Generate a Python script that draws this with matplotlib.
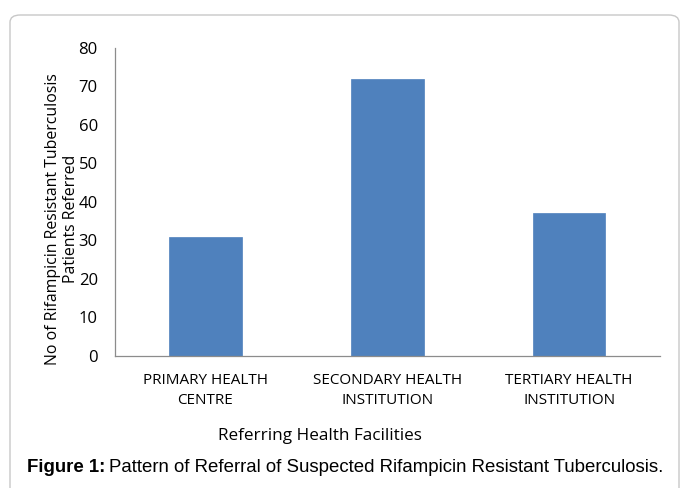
import matplotlib
matplotlib.use("Agg")
import matplotlib.pyplot as plt
from matplotlib.patches import FancyBboxPatch

categories = ["PRIMARY HEALTH\nCENTRE", "SECONDARY HEALTH\nINSTITUTION", "TERTIARY HEALTH\nINSTITUTION"]
values = [31, 72, 37]
yticks = [0, 10, 20, 30, 40, 50, 60, 70, 80]

W, H = 683, 488
fig = plt.figure(figsize=(W / 100, H / 100), dpi=100)
fig.patch.set_facecolor("white")

# rounded frame
frame = FancyBboxPatch((10 / W, -20 / H), 669 / W, 493 / H,
                       boxstyle="round,pad=0,rounding_size=0.015",
                       transform=fig.transFigure, facecolor="none",
                       edgecolor="#c8c8c8", linewidth=1.0, zorder=0)
fig.patches.append(frame)

ax = fig.add_axes([114.5 / W, 1 - 356 / H, (660 - 114.5) / W, (356 - 47.7) / H])
x = list(range(len(categories)))
ax.bar(x, values, width=0.4, color="#4f81bd", edgecolor="#4f81bd", linewidth=0.5, zorder=2)
ax.set_xlim(-0.5, 2.5)
ax.set_ylim(0, 80)
ax.set_yticks(yticks)
ax.set_xticks(x)
ax.set_xticklabels(categories, fontsize=11, family="Open Sans", linespacing=1.5)
ax.tick_params(axis="both", length=0, colors="black")
ax.tick_params(axis="y", pad=12, labelsize=12)
ax.tick_params(axis="x", pad=12)
for lab in ax.get_yticklabels():
    lab.set_family("Open Sans")
for s in ["top", "right"]:
    ax.spines[s].set_visible(False)
for s in ["left", "bottom"]:
    ax.spines[s].set_color("#8c8c8c")
    ax.spines[s].set_linewidth(0.9)

fig.text(62 / W, 1 - 219 / H, "No of Rifampicin Resistant Tuberculosis\nPatients Referred",
         rotation=90, ha="center", va="center", fontsize=11.4, family="Open Sans",
         linespacing=1.2)
fig.text(320 / W, 1 - 436 / H, "Referring Health Facilities", ha="center", va="center",
         fontsize=12.3, family="Open Sans")
t1 = fig.text(27 / W, 1 - 468 / H, "Figure 1:", ha="left", va="center", fontsize=13.4,
              family="Liberation Sans", weight="bold")
fig.canvas.draw()
bb = t1.get_window_extent()
fig.text((bb.x1 + 4) / W, 1 - 468 / H, "Pattern of Referral of Suspected Rifampicin Resistant Tuberculosis.",
         ha="left", va="center", fontsize=13.4, family="Liberation Sans")

fig.savefig("out.png", dpi=100)
